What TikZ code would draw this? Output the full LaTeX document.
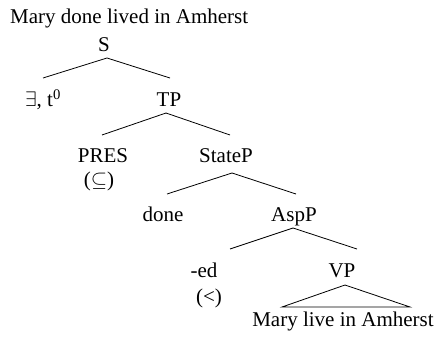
\documentclass[tikz,border=0pt]{standalone}
\usepackage{fix-cm}
\usepackage{fontspec}
\setmainfont{Liberation Serif}
\begin{document}
\begin{tikzpicture}[x=1pt,y=-1pt,
  lbl/.style={anchor=base,inner sep=0pt,font=\fontsize{21}{25}\selectfont},
  branch/.style={line width=0.8pt}]
  \useasboundingbox (0,0) rectangle (438,339);

  % sentence on top
  \node (title) at (10,24) [lbl,anchor=base west] {Mary done lived in Amherst};

  % tree labels
  \node (s) at (104,52) [lbl] {S};
  \node (ex) at (43,107) [lbl] {$\exists$, t\textsuperscript{0}};
  \node (tp) at (169,107) [lbl] {TP};
  \node (pres) at (103,162) [lbl] {PRES};
  \node (sub) at (99,186) [lbl] {($\subseteq$)};
  \node (statep) at (226,162) [lbl] {StateP};
  \node (done) at (163,221) [lbl] {done};
  \node (aspp) at (294,221) [lbl] {AspP};
  \node (ed) at (204,277) [lbl] {-ed};
  \node (less) at (209,303) [lbl] {(<)};
  \node (vp) at (342,277) [lbl] {VP};
  \node (mary) at (343,326) [lbl] {Mary live in Amherst};

  % branches
  \draw[branch] ([xshift=3pt,yshift=-6pt]s.base) -- ([yshift=29pt]ex.base);
  \draw[branch] ([xshift=3pt,yshift=-6pt]s.base) -- ([xshift=1pt,yshift=29pt]tp.base);
  \draw[branch] ([xshift=-3pt,yshift=-6pt]tp.base) -- ([xshift=-1pt,yshift=27pt]pres.base);
  \draw[branch] ([xshift=-3pt,yshift=-6pt]tp.base) -- ([xshift=4pt,yshift=27pt]statep.base);
  \draw[branch] ([xshift=6pt,yshift=-11pt]statep.base) -- ([xshift=4pt,yshift=27pt]done.base);
  \draw[branch] ([xshift=6pt,yshift=-11pt]statep.base) -- ([xshift=2pt,yshift=27pt]aspp.base);
  \draw[branch] ([xshift=-1pt,yshift=-7pt]aspp.base) -- ([xshift=26pt,yshift=28pt]ed.base);
  \draw[branch] ([xshift=-1pt,yshift=-7pt]aspp.base) -- ([xshift=15pt,yshift=28pt]vp.base);

  % roof over the VP
  \draw[branch] ([xshift=3pt,yshift=-8pt]vp.base) -- ([xshift=-61pt,yshift=19pt]mary.base)
    -- ([xshift=67pt,yshift=19pt]mary.base) -- cycle;
\end{tikzpicture}
\end{document}
